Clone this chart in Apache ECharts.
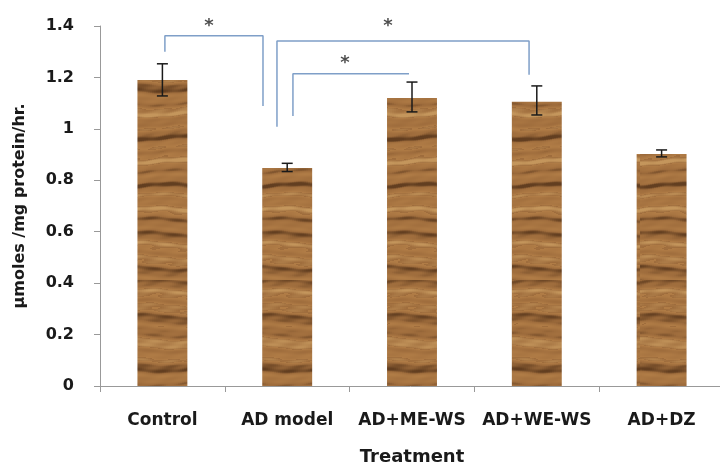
<!DOCTYPE html>
<html>
<head>
<meta charset="utf-8">
<script src="https://cdn.jsdelivr.net/npm/echarts@6/dist/echarts.min.js"></script>
<style>
  html, body { margin: 0; padding: 0; background: #fff; }
  #chart { width: 720px; height: 468px; }
</style>
</head>
<body>
<div id="chart"></div>
<script>
const categories = ['Control', 'AD model', 'AD+ME-WS', 'AD+WE-WS', 'AD+DZ']
const means = [1.19, 0.848, 1.12, 1.105, 0.902]
const errLow = [1.128, 0.834, 1.066, 1.054, 0.891]
const errHigh = [1.253, 0.866, 1.182, 1.167, 0.918]
const yTicks = [0, 0.2, 0.4, 0.6, 0.8, 1, 1.2, 1.4]

// significance brackets, in (category position, value) units
const bracketA = [[0.02, 1.30], [0.02, 1.362], [0.806, 1.362], [0.806, 1.089]]
const bracketB = [[0.918, 1.008], [0.918, 1.342], [2.938, 1.342], [2.938, 1.21]]
const bracketC = [[1.046, 1.05], [1.046, 1.214], [1.976, 1.214]]
const stars = [[0.373, 1.397], [1.808, 1.397], [1.463, 1.253]]

const font = 'DejaVu Sans'

// wood grain texture for the bars
function woodTexture () {
  const c = document.createElement('canvas')
  c.width = 64
  c.height = 280
  const ctx = c.getContext('2d')
  const dark = [98, 62, 32]
  const mid = [158, 108, 60]
  const light = [196, 150, 92]
  const mix = (a, b, t) => a.map((v, k) => Math.round(v + (b[k] - v) * t))
  for (let y = 0; y < c.height; y++) {
    for (let x = 0; x < c.width; x += 2) {
      const yy = y + Math.sin(x * 0.06 + y * 0.03) * 2
      const t = Math.sin(yy * 0.38) * 0.4 + Math.sin(yy * 0.135 + 2.1) * 0.35 +
        Math.sin(yy * 0.92 + 0.7) * 0.15 + Math.sin(x * 0.23 + yy * 0.5) * 0.1
      let col
      if (t > 0.35) col = mix(mid, dark, Math.min(1, (t - 0.35) * 2.2))
      else if (t < -0.3) col = mix(mid, light, Math.min(1, (-0.3 - t) * 2))
      else col = mix([176, 124, 70], mid, (t + 0.3) / 0.65)
      ctx.fillStyle = 'rgb(' + col.join(',') + ')'
      ctx.fillRect(x, y, 2, 1)
    }
  }
  return c
}

const chart = echarts.init(document.getElementById('chart'))

const bracketStyle = { color: '#7f9fc8', width: 1.5 }

function bracketSeries (pts) {
  return {
    type: 'line',
    xAxisIndex: 1,
    data: pts,
    symbol: 'none',
    lineStyle: bracketStyle,
    silent: true,
    z: 5
  }
}

const option = {
  animation: false,
  grid: { left: 100, top: 26, width: 624, height: 360, outerBoundsMode: 'none', containLabel: false },
  xAxis: [
    {
      type: 'category',
      data: categories,
      name: 'Treatment',
      nameLocation: 'middle',
      nameGap: 62,
      nameTextStyle: { fontFamily: font, fontWeight: 'bold', fontSize: 18, color: '#1a1a1a' },
      axisLine: { lineStyle: { color: '#999', width: 1 } },
      axisTick: { show: true, length: 6, lineStyle: { color: '#999' } },
      axisLabel: { interval: 0, margin: 26, fontFamily: font, fontWeight: 'bold', fontSize: 17, color: '#1a1a1a' }
    },
    {
      type: 'value',
      min: -0.5,
      max: 4.5,
      show: false
    }
  ],
  yAxis: {
    type: 'value',
    min: yTicks[0],
    max: yTicks[yTicks.length - 1],
    interval: 0.2,
    name: 'µmoles /mg protein/hr.',
    nameLocation: 'middle',
    nameGap: 72,
    nameTextStyle: { fontFamily: font, fontWeight: 'bold', fontSize: 16, color: '#1a1a1a' },
    axisLine: { show: true, onZero: false, lineStyle: { color: '#999', width: 1 } },
    axisTick: { show: true, length: 6, lineStyle: { color: '#999' } },
    splitLine: { show: false },
    axisLabel: { margin: 26, fontFamily: font, fontWeight: 'bold', fontSize: 16, color: '#1a1a1a' }
  },
  series: [
    {
      type: 'bar',
      data: means,
      barWidth: '40%',
      itemStyle: { color: { image: woodTexture(), repeat: 'repeat' } }
    },
    {
      type: 'custom',
      data: categories.map((c, i) => [i, errLow[i], errHigh[i]]),
      renderItem (params, api) {
        const lo = api.coord([api.value(0), api.value(1)])
        const hi = api.coord([api.value(0), api.value(2)])
        const hw = 5.5
        const style = { stroke: '#1a1a1a', lineWidth: 1.5 }
        return {
          type: 'group',
          children: [
            { type: 'line', shape: { x1: hi[0], y1: hi[1], x2: lo[0], y2: lo[1] }, style },
            { type: 'line', shape: { x1: hi[0] - hw, y1: hi[1], x2: hi[0] + hw, y2: hi[1] }, style },
            { type: 'line', shape: { x1: lo[0] - hw, y1: lo[1], x2: lo[0] + hw, y2: lo[1] }, style }
          ]
        }
      },
      z: 6
    },
    bracketSeries(bracketA),
    bracketSeries(bracketB),
    bracketSeries(bracketC),
    {
      type: 'scatter',
      xAxisIndex: 1,
      data: stars,
      symbolSize: 0,
      label: {
        show: true,
        position: 'inside',
        formatter: '*',
        fontFamily: font,
        fontWeight: 'bold',
        fontSize: 18,
        color: '#222'
      },
      z: 7
    }
  ]
}

chart.setOption(option)
</script>
</body>
</html>
